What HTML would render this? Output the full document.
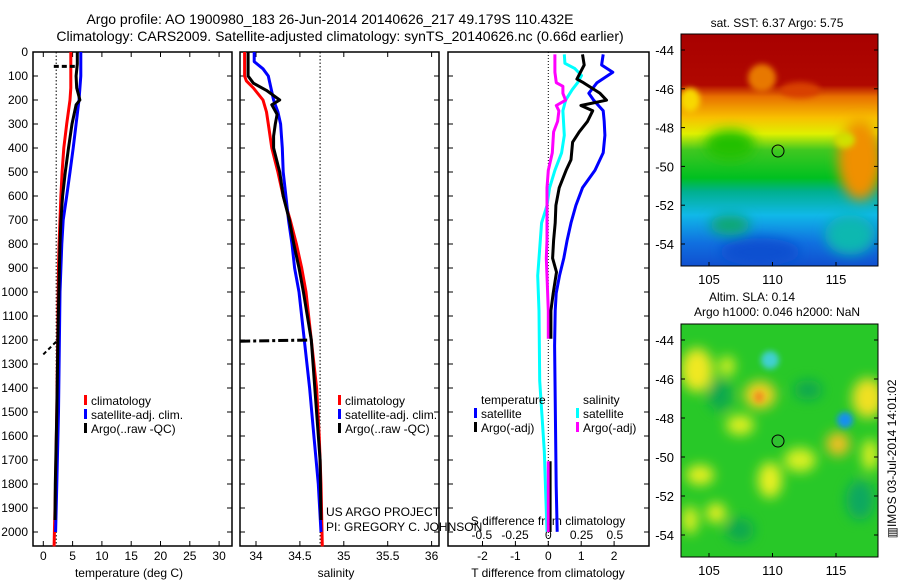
<!DOCTYPE html>
<html><head><meta charset="utf-8"><style>
body{margin:0;background:#fff}
svg{display:block;font-family:"Liberation Sans",sans-serif}
</style></head><body>
<svg id="c" width="900" height="580" viewBox="0 0 900 580" xmlns="http://www.w3.org/2000/svg">
<defs>
<filter id="bl" x="-50%" y="-50%" width="200%" height="200%"><feGaussianBlur stdDeviation="6"/></filter>
<filter id="bl2" x="-50%" y="-50%" width="200%" height="200%"><feGaussianBlur stdDeviation="3"/></filter>
<clipPath id="m1"><rect x="681" y="34" width="197" height="232"/></clipPath>
<clipPath id="m2"><rect x="681" y="324" width="197" height="233"/></clipPath>
<linearGradient id="sst" x1="0" y1="0" x2="0" y2="1">
<stop offset="0" stop-color="#a80000"/><stop offset="0.22" stop-color="#b00800"/>
<stop offset="0.27" stop-color="#e87000"/><stop offset="0.36" stop-color="#f8c000"/>
<stop offset="0.43" stop-color="#e0f000"/><stop offset="0.5" stop-color="#40c820"/>
<stop offset="0.62" stop-color="#00c020"/><stop offset="0.68" stop-color="#00b090"/>
<stop offset="0.78" stop-color="#10b8e8"/><stop offset="0.9" stop-color="#1070e0"/>
<stop offset="1" stop-color="#1050d0"/></linearGradient>
</defs>
<g id="titles">
<text x="330" y="24" font-size="14" text-anchor="middle">Argo profile: AO 1900980_183 26-Jun-2014 20140626_217 49.179S 110.432E</text>
<text x="340" y="41" font-size="14" text-anchor="middle">Climatology: CARS2009. Satellite-adjusted climatology: synTS_20140626.nc (0.66d earlier)</text>
</g>
<g id="plots"></g>
<g id="maps">
<g clip-path="url(#m1)">
<rect x="681" y="34" width="197" height="232" fill="url(#sst)"/>
<ellipse cx="762" cy="78" rx="14" ry="14" fill="#e87800" filter="url(#bl2)"/>
<ellipse cx="800" cy="90" rx="20" ry="8" fill="#d84000" filter="url(#bl2)"/>
<ellipse cx="860" cy="160" rx="22" ry="40" fill="#f09000" filter="url(#bl)"/>
<ellipse cx="845" cy="140" rx="10" ry="8" fill="#d0e000" filter="url(#bl2)"/>
<ellipse cx="690" cy="100" rx="10" ry="12" fill="#f8d800" filter="url(#bl2)"/>
<ellipse cx="730" cy="145" rx="25" ry="15" fill="#20c000" filter="url(#bl)"/>
<ellipse cx="760" cy="252" rx="40" ry="14" fill="#0850d0" filter="url(#bl)"/>
<ellipse cx="730" cy="225" rx="20" ry="10" fill="#10a870" filter="url(#bl)"/>
<ellipse cx="850" cy="235" rx="25" ry="20" fill="#10b8b0" filter="url(#bl)"/>
</g>
<rect x="681" y="34" width="197" height="232" fill="none" stroke="#000"/>
<circle cx="778" cy="151" r="6" fill="none" stroke="#000"/>
<g clip-path="url(#m2)">
<rect x="681" y="324" width="197" height="233" fill="#28c828"/>
<g filter="url(#bl)">
<ellipse cx="697" cy="370" rx="16" ry="22" fill="#f0e820"/>
<ellipse cx="727" cy="366" rx="8" ry="10" fill="#d8f020"/>
<ellipse cx="760" cy="395" rx="16" ry="14" fill="#f0d020"/>
<ellipse cx="868" cy="398" rx="16" ry="20" fill="#f0e020"/>
<ellipse cx="740" cy="425" rx="14" ry="10" fill="#e0f020"/>
<ellipse cx="838" cy="444" rx="12" ry="12" fill="#f0c020"/>
<ellipse cx="800" cy="460" rx="16" ry="12" fill="#d8f020"/>
<ellipse cx="700" cy="475" rx="14" ry="10" fill="#e8f020"/>
<ellipse cx="770" cy="480" rx="12" ry="18" fill="#e8f020"/>
<ellipse cx="716" cy="513" rx="10" ry="10" fill="#e8f020"/>
<ellipse cx="870" cy="455" rx="8" ry="16" fill="#e0f020"/>
<ellipse cx="690" cy="520" rx="8" ry="14" fill="#e0f020"/>
<ellipse cx="720" cy="395" rx="12" ry="16" fill="#10a850"/>
<ellipse cx="808" cy="390" rx="14" ry="10" fill="#10a850"/>
<ellipse cx="860" cy="500" rx="14" ry="20" fill="#10a860"/>
<ellipse cx="740" cy="530" rx="14" ry="12" fill="#10a850"/>
</g>
<ellipse cx="770" cy="360" rx="9" ry="9" fill="#40d0d0" filter="url(#bl2)"/>
<ellipse cx="845" cy="420" rx="8" ry="8" fill="#1890f0" filter="url(#bl2)"/>
<ellipse cx="759" cy="397" rx="5" ry="6" fill="#f09020" filter="url(#bl2)"/>
</g>
<rect x="681" y="324" width="197" height="233" fill="none" stroke="#000"/>
<circle cx="778" cy="441" r="6" fill="#30c030" stroke="#000"/>
<text x="777" y="27" font-size="12" text-anchor="middle">sat. SST: 6.37 Argo: 5.75</text>
<text x="752" y="301" font-size="12" text-anchor="middle">Altim. SLA: 0.14</text>
<text x="777" y="316" font-size="12" text-anchor="middle">Argo h1000: 0.046 h2000: NaN</text>
<text transform="translate(896,459) rotate(-90)" font-size="12" text-anchor="middle">▥IMOS 03-Jul-2014 14:01:02</text>
</g>
</svg>
<script>
// ---- data ----
const depthTicks=[0,100,200,300,400,500,600,700,800,900,1000,1100,1200,1300,1400,1500,1600,1700,1800,1900,2000];
const tempTicks=[0,5,10,15,20,25,30];
const salTicks=[34,34.5,35,35.5,36];
const salTickLabels=['34','34.5','35','35.5','36'];
const dTTicks=[-2,-1,0,1,2];
const dSTicks=[-0.5,-0.25,0,0.25,0.5];
const dSTickLabels=['-0.5','-0.25','0','0.25','0.5'];
const latTicks=[-44,-46,-48,-50,-52,-54];
const lonTicks=[105,110,115];

const tClimD=[0,150,200,300,400,500,600,700,800,900,1000,1200,1500,1800,2000,2060];
const tClim=[4.7,4.7,4.55,4.0,3.5,3.2,3.0,2.85,2.7,2.6,2.55,2.45,2.3,2.1,1.9,1.85];
const tSatD=[0,100,200,300,400,500,600,700,800,900,1000,1200,1500,1800,2000];
const tSat=[6.4,6.4,6.1,5.6,5.1,4.55,4.0,3.4,3.15,3.0,2.85,2.75,2.6,2.3,2.1];
const tArgoD=[0,50,100,150,200,220,300,400,500,600,700,800,900,1000,1200,1500,1800,1950];
const tArgo=[5.8,5.8,5.6,5.7,6.25,5.6,4.9,4.3,3.75,3.3,3.0,2.85,2.75,2.65,2.5,2.3,2.05,2.0];

const sClimD=[0,100,120,150,200,250,300,400,500,600,700,800,900,1000,1200,1400,1600,1800,2060];
const sClim=[33.87,33.87,33.89,33.97,34.08,34.12,34.14,34.18,34.25,34.31,34.39,34.46,34.52,34.57,34.63,34.69,34.72,34.74,34.755];
const sSatD=[0,40,70,100,200,250,300,400,500,600,700,800,900,1000,1200,1400,1600,1800,2000];
const sSat=[33.98,33.98,34.08,34.14,34.2,34.25,34.28,34.3,34.31,34.34,34.37,34.41,34.44,34.49,34.55,34.61,34.66,34.71,34.74];
const sArgoD=[0,100,130,160,200,220,260,300,350,400,500,600,700,800,900,1000,1200,1700,1950];
const sArgo=[33.91,33.91,33.97,34.12,34.27,34.18,34.24,34.22,34.2,34.2,34.27,34.31,34.38,34.43,34.49,34.54,34.63,34.73,34.74];

const dTSatD=[10,54,84,128,172,201,245,289,347,420,493,566,639,712,785,859,932,1005,1078,1224,1809,1999];
const dTSat=[1.67,1.62,1.96,1.48,1.23,1.38,1.67,1.7,1.72,1.67,1.42,1.04,0.84,0.69,0.57,0.47,0.34,0.24,0.21,0.19,0.24,0.27];
const dTArgoD=[10,54,113,128,172,201,223,245,289,333,376,449,493,566,639,712,785,859,917,1005,1078,1195];
const dTArgo=[1.04,1.09,0.87,1.07,1.57,1.77,0.99,1.35,1.19,0.94,0.74,0.69,0.54,0.33,0.23,0.21,0.16,0.13,0.25,0.15,0.08,0.08];
const dSSatD=[10,47,69,98,128,157,201,245,347,420,493,566,639,712,785,932,1078,1370,1663,1999];
const dSSat=[0.12,0.125,0.2,0.25,0.22,0.18,0.13,0.11,0.12,0.1,0.05,0.01,-0.01,-0.05,-0.06,-0.08,-0.07,-0.065,-0.03,-0.01];
const dSArgoD=[10,84,128,143,172,201,223,245,289,333,420,493,566,639,785,859,932,1078,1195];
const dSArgo=[0.05,0.05,0.06,0.11,0.11,0.13,0.06,0.08,0.07,0.04,0.03,0.0,-0.01,-0.01,-0.01,-0.015,-0.01,0.0,0.0];
const dSArgo2D=[1705,2000];
const dSArgo2=[0.0,0.0];
const dTArgo2D=[1705,2000];
const dTArgo2=[0.07,0.07];

// ---- axes ----
const NS='http://www.w3.org/2000/svg';
const Y0=52,YB=546;
const yD=d=>Y0+d*0.24;
const xT=t=>43.3+t*5.86;
const xS=s=>256+(s-34)*87.8;
const xDT=t=>548.3+t*32.9;
const xDS=s=>548.3+s*133;
const lonX=l=>709+(l-105)*12.7;
const latY1=l=>50+(-44-l)*19.4;
const latY2=l=>340+(-44-l)*19.5;
const root=document.getElementById('plots');
function mk(tag,at,par){const e=document.createElementNS(NS,tag);for(const k in at)e.setAttribute(k,at[k]);(par||root).appendChild(e);return e;}
function txt(x,y,s,sz,anc,par){const e=mk('text',{x:x,y:y,'font-size':sz,'text-anchor':anc||'middle'},par);e.textContent=s;return e;}

const panels=[[33,232],[240,439],[448,649]];
panels.forEach((p,i)=>{
  const g=mk('g',{});
  
  
  const r=mk('rect',{x:p[0],y:Y0,width:p[1]-p[0],height:YB-Y0,fill:'none',stroke:'#000','stroke-width':1.5},g);
  depthTicks.forEach(d=>{
    mk('line',{x1:p[0],x2:p[0]+5,y1:yD(d),y2:yD(d),stroke:'#000'},g);
    mk('line',{x1:p[1]-5,x2:p[1],y1:yD(d),y2:yD(d),stroke:'#000'},g);
  });
});
// depth labels
const dl=mk('g',{});


depthTicks.forEach(d=>{txt(28,yD(d)+4,String(d),12,'end',dl);});
// temp ticks
const tg=mk('g',{});


tempTicks.forEach(t=>{const x=xT(t);mk('line',{x1:x,x2:x,y1:YB,y2:YB-5,stroke:'#000'},tg);mk('line',{x1:x,x2:x,y1:Y0,y2:Y0+5,stroke:'#000'},tg);txt(x,560,String(t),12,'middle',tg);});
txt(129,577,'temperature (deg C)',12,'middle',tg);
const sg=mk('g',{});


salTicks.forEach((s,i)=>{const x=xS(s);mk('line',{x1:x,x2:x,y1:YB,y2:YB-5,stroke:'#000'},sg);mk('line',{x1:x,x2:x,y1:Y0,y2:Y0+5,stroke:'#000'},sg);txt(x,560,salTickLabels[i],12,'middle',sg);});
txt(336,577,'salinity',12,'middle',sg);
const dg=mk('g',{});


dTTicks.forEach(t=>{const x=xDT(t);mk('line',{x1:x,x2:x,y1:YB,y2:YB-5,stroke:'#000'},dg);txt(x,560,String(t),12,'middle',dg);});
dSTicks.forEach((s,i)=>{txt(xDS(s),539,dSTickLabels[i],12,'middle',dg);});
txt(548,525,'S difference from climatology',12,'middle',dg);
txt(548,577,'T difference from climatology',12,'middle',dg);

// reference dotted lines
mk('line',{x1:xT(2.2),x2:xT(2.2),y1:Y0,y2:YB,stroke:'#000','stroke-dasharray':'1.5,2'});
mk('line',{x1:xS(34.73),x2:xS(34.73),y1:Y0,y2:YB,stroke:'#000','stroke-dasharray':'1.5,2'});
mk('line',{x1:xDT(0),x2:xDT(0),y1:Y0,y2:YB,stroke:'#000','stroke-dasharray':'1,2'});

function line(xs,ds,fx,col,name,w,dash){
  const pts=xs.map((v,i)=>fx(v).toFixed(1)+','+yD(ds[i]).toFixed(1)).join(' ');
  const e=mk('polyline',{points:pts,fill:'none',stroke:col,'stroke-width':w||3,'stroke-linejoin':'round'});
  if(dash)e.setAttribute('stroke-dasharray',dash);
  
  
}
line(tClim,tClimD,xT,'#f00','temp-climatology-line');
line(tSat,tSatD,xT,'#00f','temp-satellite-line');
line(tArgo,tArgoD,xT,'#000','temp-argo-line');
line([1.8,5.8],[60,60],xT,'#000','temp-argo-raw-dash',3,'5,3');
line([0,2.5],[1260,1200],xT,'#000','temp-argo-raw-dash-deep',2,'4,3');
line(sClim,sClimD,xS,'#f00','sal-climatology-line');
line(sSat,sSatD,xS,'#00f','sal-satellite-line');
line(sArgo,sArgoD,xS,'#000','sal-argo-line');
line([33.82,34.63],[1205,1200],xS,'#000','sal-argo-raw-dashdot',3,'10,3,3,3');
line(dSSat,dSSatD,xDS,'#0ff','dsal-satellite-line');
line(dSArgo,dSArgoD,xDS,'#f0f','dsal-argo-line');
line(dSArgo2,dSArgo2D,xDS,'#f0f','dsal-argo-line-deep');
line(dTSat,dTSatD,xDT,'#00f','dtemp-satellite-line');
line(dTArgo,dTArgoD,xDT,'#000','dtemp-argo-line');
line(dTArgo2,dTArgo2D,xDT,'#000','dtemp-argo-line-deep',2);

function legend(x,y,items,name){
  const g=mk('g',{});
  
  
  items.forEach((it,i)=>{
    if(it[1])mk('rect',{x:x,y:y+i*14-10,width:3,height:10,fill:it[1]},g);
    txt(x+7,y+i*14,it[0],12,'start',g);
  });
}
legend(84,405,[['climatology','#f00'],['satellite-adj. clim.','#00f'],['Argo(..raw -QC)','#000']],'temp-legend');
legend(338,405,[['climatology','#f00'],['satellite-adj. clim.','#00f'],['Argo(..raw -QC)','#000']],'sal-legend');
legend(474,404,[['temperature',null],['satellite','#00f'],['Argo(-adj)','#000']],'dtemp-legend');
legend(576,404,[['salinity',null],['satellite','#0ff'],['Argo(-adj)','#f0f']],'dsal-legend');
const cr=txt(326,516,'US ARGO PROJECT',12,'start');

const cr2=txt(326,531,'PI: GREGORY C. JOHNSON',12,'start');


// map axes
const mg=document.getElementById('maps');
[[latY1,266],[latY2,557]].forEach((m,k)=>{
  latTicks.forEach(l=>{const y=m[0](l);mk('line',{x1:681,x2:685,y1:y,y2:y,stroke:'#000'},mg);mk('line',{x1:874,x2:878,y1:y,y2:y,stroke:'#000'},mg);txt(674,y+5,String(l),13,'end',mg);});
  lonTicks.forEach(l=>{const x=lonX(l);mk('line',{x1:x,x2:x,y1:m[1],y2:m[1]-4,stroke:'#000'},mg);txt(x,m[1]+18,String(l),13,'middle',mg);});
});
</script>
</body></html>
